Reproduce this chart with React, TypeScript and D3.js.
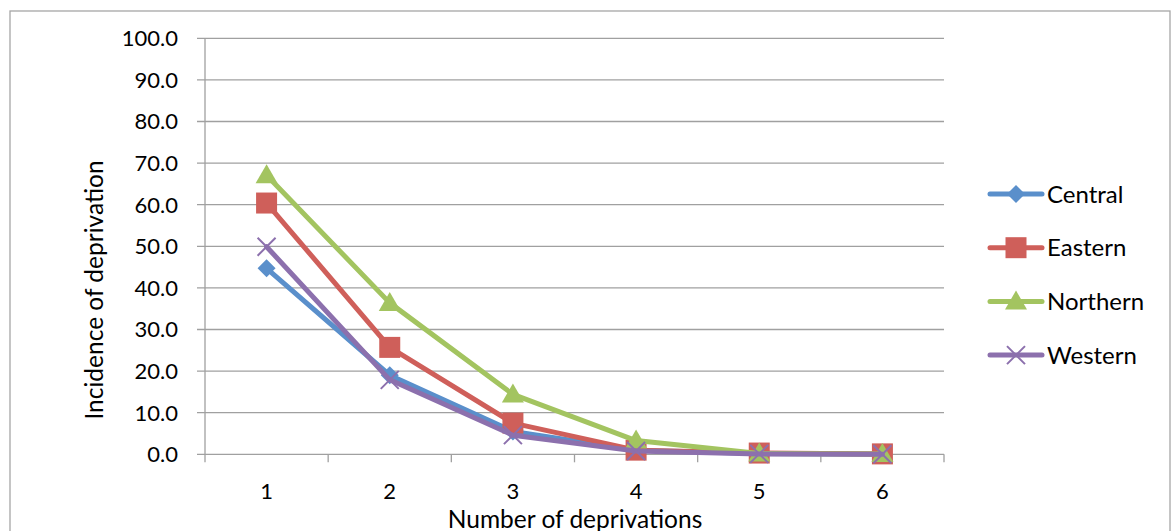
import React from "react";
import * as d3 from "d3";

const categories = ["1", "2", "3", "4", "5", "6"];
const seriesNames = ["Central", "Eastern", "Northern", "Western"];
const central = [44.7, 19.0, 5.5, 1.0, 0.2, 0.0];
const eastern = [60.4, 25.7, 7.5, 1.0, 0.3, 0.1];
const northern = [67.1, 36.4, 14.4, 3.3, 0.2, 0.1];
const western = [49.9, 17.9, 4.6, 0.8, 0.1, 0.0];
const yTicks = [0, 10, 20, 30, 40, 50, 60, 70, 80, 90, 100];

const colors = ["#5a8fcb", "#cf5f5a", "#a3c460", "#8c70ad"];
const markers = ["diamond", "square", "triangle", "x"];
const FONT = "Lato, 'Open Sans', sans-serif";

function Marker({ type, x, y, color }: { type: string; x: number; y: number; color: string }) {
  if (type === "diamond") {
    const s = 9;
    return <path d={`M${x},${y - s}L${x + s},${y}L${x},${y + s}L${x - s},${y}Z`} fill={color} />;
  }
  if (type === "square") {
    const s = 10.5;
    return <rect x={x - s} y={y - s} width={2 * s} height={2 * s} fill={color} />;
  }
  if (type === "triangle") {
    return <path d={`M${x},${y - 11}L${x + 11},${y + 8}L${x - 11},${y + 8}Z`} fill={color} />;
  }
  const s = 9;
  return (
    <path
      d={`M${x - s},${y - s}L${x + s},${y + s}M${x - s},${y + s}L${x + s},${y - s}`}
      stroke={color}
      strokeWidth={2}
    />
  );
}

export default function App() {
  const W = 1171, H = 531;
  const left = 205, right = 944, top = 38.3, bottom = 454.3;
  const x = d3.scaleBand().domain(categories).range([left, right]);
  const y = d3.scaleLinear().domain([0, 100]).range([bottom, top]);
  const data = [central, eastern, northern, western];
  const line = d3
    .line<number>()
    .x((_, i) => x(categories[i])! + x.bandwidth() / 2)
    .y((d) => y(d));
  const grid = "#a0a0a0";
  const boundaries = d3.range(categories.length + 1).map((i) => left + i * x.bandwidth());

  return (
    <svg
      width={W}
      height={H}
      style={{ position: "absolute", left: 0, top: 0, background: "#fff" }}
      fontFamily={FONT}
    >
      <rect x={10} y={11} width={1160} height={560} fill="#fff" stroke="#a6a6a6" strokeWidth={1.3} />
      {yTicks.map((t) => (
        <g key={t}>
          <line x1={left - 8} x2={right} y1={y(t)} y2={y(t)} stroke={grid} strokeWidth={1.3} />
          <text x={178} y={y(t)} dy="0.36em" textAnchor="end" fontSize={22} fill="#000">
            {t.toFixed(1)}
          </text>
        </g>
      ))}
      <line x1={left} x2={left} y1={top} y2={bottom} stroke={grid} strokeWidth={1.3} />
      {boundaries.map((b, i) => (
        <line key={i} x1={b} x2={b} y1={bottom} y2={bottom + 8} stroke={grid} strokeWidth={1.3} />
      ))}
      {categories.map((c) => (
        <text
          key={c}
          x={x(c)! + x.bandwidth() / 2}
          y={499}
          textAnchor="middle"
          fontSize={22}
          fill="#000"
        >
          {c}
        </text>
      ))}
      <text
        transform={`translate(103,290) rotate(-90)`}
        textAnchor="middle"
        fontSize={24.5}
        fill="#000"
      >
        Incidence of deprivation
      </text>
      <text x={575} y={528} textAnchor="middle" fontSize={24.5} fill="#000">
        Number of deprivations
      </text>
      {data.map((d, si) => (
        <g key={si}>
          <path
            d={line(d)!}
            fill="none"
            stroke={colors[si]}
            strokeWidth={5}
            strokeLinejoin="round"
            strokeLinecap="round"
          />
          {d.map((v, i) => (
            <Marker
              key={i}
              type={markers[si]}
              x={x(categories[i])! + x.bandwidth() / 2}
              y={y(v)}
              color={colors[si]}
            />
          ))}
        </g>
      ))}
      {seriesNames.map((n, i) => {
        const ly = 194 + i * 53.7;
        return (
          <g key={n}>
            <line x1={990} x2={1042} y1={ly} y2={ly} stroke={colors[i]} strokeWidth={5} strokeLinecap="round" />
            <Marker type={markers[i]} x={1016} y={ly} color={colors[i]} />
            <text x={1047} y={ly} dy="0.36em" fontSize={24} fill="#000">
              {n}
            </text>
          </g>
        );
      })}
    </svg>
  );
}
